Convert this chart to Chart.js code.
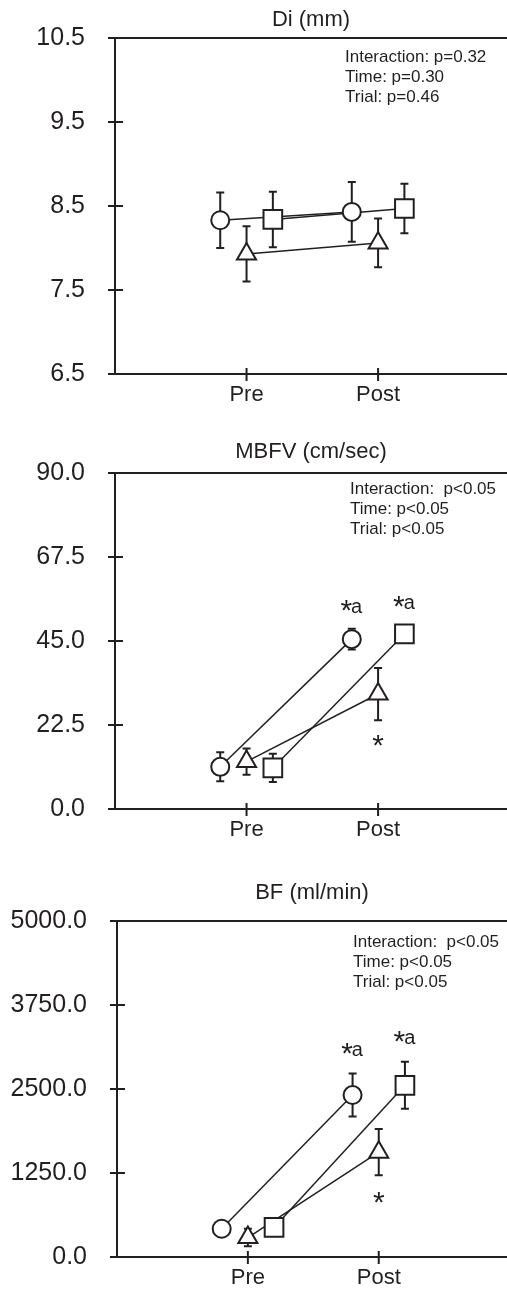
<!DOCTYPE html>
<html>
<head>
<meta charset="utf-8">
<script src="https://cdn.jsdelivr.net/npm/chart.js@4.4.1/dist/chart.umd.min.js"></script>
<style>
  html, body { margin: 0; padding: 0; background: #fff; overflow: hidden; }
  body { width: 507px; height: 1295px; position: relative; }
  .panel { position: absolute; left: 0; width: 507px; }
</style>
</head>
<body>
<div class="panel" style="top:0;height:435px"><canvas id="di-chart"></canvas></div>
<div class="panel" style="top:435px;height:435px"><canvas id="mbfv-chart"></canvas></div>
<div class="panel" style="top:883px;height:412px"><canvas id="bf-chart"></canvas></div>
<script>
// time points on the x axis
const timeLabels = ['Pre', 'Post'];

// Di (mm)
const diTicks = [6.5, 7.5, 8.5, 9.5, 10.5];
const diCircle = [8.33, 8.43];
const diCircleSd = [0.33, 0.355];
const diTriangle = [7.93, 8.06];
const diTriangleSd = [0.33, 0.29];
const diSquare = [8.34, 8.47];
const diSquareSd = [0.33, 0.295];
const diStats = ['Interaction: p=0.32', 'Time: p=0.30', 'Trial: p=0.46'];

// MBFV (cm/sec)
const mbfvTicks = [0, 22.5, 45, 67.5, 90];
const mbfvCircle = [11.3, 45.5];
const mbfvCircleSd = [3.9, 2.8];
const mbfvTriangle = [12.7, 30.8];
const mbfvTriangleSd = [3.5, 7.0];
const mbfvSquare = [11.0, 46.9];
const mbfvSquareSd = [3.8, 2.4];
const mbfvStats = ['Interaction:  p<0.05', 'Time: p<0.05', 'Trial: p<0.05'];

// BF (ml/min)
const bfTicks = [0, 1250, 2500, 3750, 5000];
const bfCircle = [420, 2410];
const bfCircleSd = [60, 320];
const bfTriangle = [290, 1560];
const bfTriangleSd = [130, 345];
const bfSquare = [440, 2555];
const bfSquareSd = [60, 350];
const bfStats = ['Interaction:  p<0.05', 'Time: p<0.05', 'Trial: p<0.05'];

// significance marks: [group index (0 circle, 1 triangle, 2 square), time index, text, side]
const mbfvMarks = [[0, 1, '*a', 'above'], [2, 1, '*a', 'above'], [1, 1, '*', 'below']];
const bfMarks = [[0, 1, '*a', 'above'], [2, 1, '*a', 'above'], [1, 1, '*', 'below']];

const ink = '#231f20';
const FONT = "'Liberation Sans', Arial, sans-serif";
const markers = [
  { style: 'circle', radius: 9 },
  { style: 'triangle', radius: 11 },
  { style: 'rect', radius: 13.2 },
];
const groupShift = [-0.2, 0, 0.2];

function drawSigText(ctx, cx, cy, text) {
  const rest = text.slice(1);
  ctx.font = '30px ' + FONT;
  const ws = ctx.measureText('*').width;
  ctx.font = '20px ' + FONT;
  const wr = rest ? ctx.measureText(rest).width : 0;
  const x0 = cx - (ws + wr) / 2;
  ctx.textAlign = 'left';
  ctx.textBaseline = 'alphabetic';
  ctx.font = '30px ' + FONT;
  ctx.fillText('*', x0, cy + 13);
  if (rest) {
    ctx.font = '20px ' + FONT;
    ctx.fillText(rest, x0 + ws - 1, cy + 6);
  }
}

const decor = {
  id: 'decor',
  beforeDatasetsDraw(chart) {
    const { ctx, chartArea: a, scales: { x, y } } = chart;
    ctx.save();
    ctx.strokeStyle = ink;
    ctx.lineWidth = 2;
    // top frame line
    ctx.beginPath();
    ctx.moveTo(a.left, a.top);
    ctx.lineTo(a.right, a.top);
    ctx.stroke();
    // error bars
    chart.data.datasets.forEach(ds => {
      if (!ds.sd) return;
      ds.data.forEach((pt, i) => {
        const px = x.getPixelForValue(pt.x);
        const t = y.getPixelForValue(pt.y + ds.sd[i]);
        const b = y.getPixelForValue(pt.y - ds.sd[i]);
        ctx.beginPath();
        ctx.moveTo(px, t); ctx.lineTo(px, b);
        ctx.moveTo(px - 4, t); ctx.lineTo(px + 4, t);
        ctx.moveTo(px - 4, b); ctx.lineTo(px + 4, b);
        ctx.stroke();
      });
    });
    ctx.restore();
  },
  afterDraw(chart) {
    const { ctx, chartArea: a, scales: { x, y } } = chart;
    const o = chart.options.plugins.decor;
    ctx.save();
    ctx.strokeStyle = ink;
    ctx.lineWidth = 2;
    ctx.beginPath();
    y.ticks.forEach(t => {
      const py = y.getPixelForValue(t.value);
      ctx.moveTo(a.left - 7, py); ctx.lineTo(a.left + 8, py);
    });
    x.ticks.forEach(t => {
      const px = x.getPixelForValue(t.value);
      ctx.moveTo(px, a.bottom - 6); ctx.lineTo(px, a.bottom + 7);
    });
    ctx.stroke();

    ctx.fillStyle = ink;
    // title
    ctx.font = '22px ' + FONT;
    ctx.textAlign = 'center';
    ctx.textBaseline = 'middle';
    ctx.fillText(o.title, (a.left + a.right) / 2, a.top - o.titleGap);
    // stats
    ctx.font = '17px ' + FONT;
    ctx.textAlign = 'left';
    o.stats.forEach((s, i) => ctx.fillText(s, a.left + o.statsX, a.top + o.statsY + i * 20));
    // significance marks
    const markerSets = chart.data.datasets.filter(d => d.sd);
    o.marks.forEach(([g, ti, text, side]) => {
      const ds = markerSets[g];
      const pt = ds.data[ti];
      const px = x.getPixelForValue(pt.x);
      const py = side === 'above'
        ? y.getPixelForValue(pt.y + ds.sd[ti]) - o.markGap
        : y.getPixelForValue(pt.y - ds.sd[ti]) + o.markGap;
      drawSigText(ctx, px, py, text);
    });
    ctx.restore();
  }
};

function makePanel(id, p) {
  const lineSets = p.means.map((m, g) => ({
    data: m.map((v, ti) => ({ x: ti + 1 + groupShift[g], y: v })),
    showLine: true,
    borderColor: ink,
    borderWidth: 1.5,
    pointRadius: 0,
    order: 2,
  }));
  const markerSets = p.means.map((m, g) => ({
    data: m.map((v, ti) => ({ x: ti + 1 + groupShift[g], y: v })),
    sd: p.sds[g],
    showLine: false,
    pointStyle: markers[g].style,
    pointRadius: markers[g].radius,
    pointBackgroundColor: '#fff',
    pointBorderColor: ink,
    pointBorderWidth: 2,
    order: 1,
  }));
  return new Chart(document.getElementById(id), {
    type: 'scatter',
    data: { datasets: [...lineSets, ...markerSets] },
    options: {
      responsive: true,
      maintainAspectRatio: false,
      animation: false,
      layout: { autoPadding: false, padding: { top: 38, right: 0, left: 0, bottom: 0 } },
      plugins: {
        legend: { display: false },
        tooltip: { enabled: false },
        decor: {
          title: p.title, titleGap: p.titleGap,
          stats: p.stats, statsX: p.statsX, statsY: p.statsY,
          marks: p.marks, markGap: p.markGap,
        },
      },
      scales: {
        x: {
          type: 'linear', min: 0, max: 2.98,
          afterBuildTicks: s => { s.ticks = timeLabels.map((_, i) => ({ value: i + 1 })); },
          afterFit: s => { s.height = p.xHeight; },
          ticks: { color: ink, font: { family: FONT, size: 22 }, padding: 8,
                   callback: (v) => timeLabels[v - 1] },
          grid: { display: false, drawTicks: false },
          border: { display: true, color: ink, width: 2 },
        },
        y: {
          min: p.ticks[0], max: p.ticks[p.ticks.length - 1],
          afterBuildTicks: s => { s.ticks = p.ticks.map(v => ({ value: v })); },
          afterFit: s => { s.width = p.yWidth; },
          ticks: { color: ink, font: { family: FONT, size: 25 }, padding: 8,
                   callback: v => v.toFixed(1) },
          // tick marks are drawn by the decor plugin; tickLength only spaces the labels
          grid: { display: false, drawTicks: true, tickLength: 22 },
          border: { display: true, color: ink, width: 2 },
        },
      },
    },
    plugins: [decor],
  });
}

makePanel('di-chart', {
  title: 'Di (mm)', titleGap: 18, ticks: diTicks,
  means: [diCircle, diTriangle, diSquare], sds: [diCircleSd, diTriangleSd, diSquareSd],
  stats: diStats, statsX: 230, statsY: 19, marks: [], markGap: 23,
  yWidth: 115, xHeight: 61,
});
makePanel('mbfv-chart', {
  title: 'MBFV (cm/sec)', titleGap: 21, ticks: mbfvTicks,
  means: [mbfvCircle, mbfvTriangle, mbfvSquare], sds: [mbfvCircleSd, mbfvTriangleSd, mbfvSquareSd],
  stats: mbfvStats, statsX: 235, statsY: 16, marks: mbfvMarks, markGap: 22,
  yWidth: 115, xHeight: 61,
});
makePanel('bf-chart', {
  title: 'BF (ml/min)', titleGap: 28, ticks: bfTicks,
  means: [bfCircle, bfTriangle, bfSquare], sds: [bfCircleSd, bfTriangleSd, bfSquareSd],
  stats: bfStats, statsX: 236, statsY: 21, marks: bfMarks, markGap: 24,
  yWidth: 117, xHeight: 38,
});
</script>
</body>
</html>
